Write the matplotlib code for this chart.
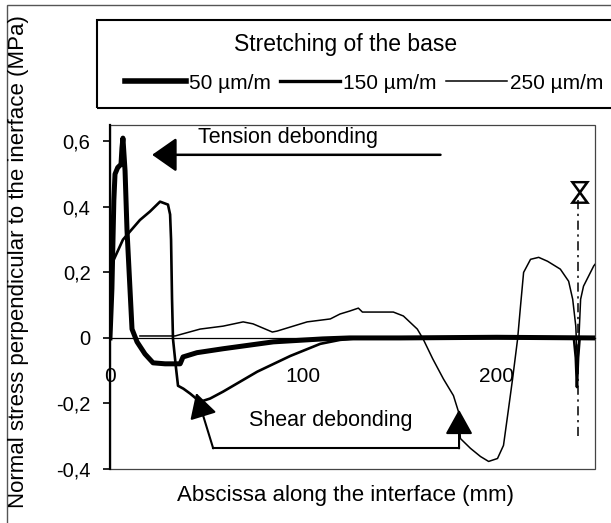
import numpy as np
import matplotlib
matplotlib.use('Agg')
import matplotlib.pyplot as plt
import matplotlib.ticker as mticker
from matplotlib.patches import Rectangle
from matplotlib.lines import Line2D

# ── Data ───────────────────────────────────────────────────────────────────
# abscissa along the interface (mm) / normal stress (MPa)
x_50 = [0, 1.0, 2.0, 2.6, 4.0, 5.7, 6.2, 6.7, 7.8, 8.8, 11.4, 14.0, 18.1, 22.3,
        28.5, 36.3, 37.8, 45, 58.5, 84.5, 110, 124, 150, 200, 251]
y_50 = [0, 0.15, 0.42, 0.50, 0.52, 0.53, 0.58, 0.61, 0.51, 0.33, 0.027, -0.012,
        -0.049, -0.076, -0.079, -0.079, -0.058, -0.045, -0.033, -0.012, -0.003,
        0, 0, 0.002, 0]

x_150 = [0, 1.6, 6.7, 15.5, 20.7, 25.9, 30.0, 31.1, 31.6, 32.1, 32.6, 34.2,
         35.2, 38.0, 41.5, 46.6, 51.8, 58.5, 76.2, 93.3, 108.8, 119, 130,
         200, 240, 241.0, 241.6, 242.2, 243, 251]
y_150 = [0.20, 0.234, 0.30, 0.36, 0.386, 0.416, 0.407, 0.377, 0.30, 0.12,
         -0.003, -0.094, -0.146, -0.155, -0.17, -0.195, -0.185, -0.164,
         -0.103, -0.055, -0.018, -0.006, 0, 0, 0, -0.06, -0.15, -0.06, 0, 0]

x_250 = [15.5, 33.7, 46.6, 58.5, 68.9, 74, 84, 86.5, 102, 114, 119, 124,
         128.5, 130.6, 133, 138, 146.6, 151.8, 159, 162, 167, 172.5, 177.7,
         180.3, 181.3, 186.5, 191.7, 195.9, 200.5, 203.6, 206, 208.3, 210.9,
         212.4, 214, 217.6, 221.8, 226.4, 233, 237.3, 239.4, 241, 242,
         242.6, 243.5, 245, 250.3, 251]
y_250 = [0.006, 0.006, 0.027, 0.036, 0.049, 0.043, 0.018, 0.021, 0.049,
         0.058, 0.073, 0.082, 0.091, 0.079, 0.079, 0.079, 0.079, 0.067, 0.027,
         -0.003, -0.064, -0.125, -0.176, -0.225, -0.307, -0.337, -0.362,
         -0.377, -0.368, -0.328, -0.225, -0.125, -0.003, 0.097, 0.20, 0.24,
         0.246, 0.234, 0.21, 0.173, 0.118, 0.036, -0.10, -0.003, 0.118, 0.158,
         0.22, 0.225]

series_labels = ['50 µm/m', '150 µm/m', '250 µm/m']

x_ticks = [0, 100, 200]
y_ticks = [-0.4, -0.2, 0, 0.2, 0.4, 0.6]

# annotation anchors (data units)
tension_text = (92, 0.611)
tension_from, tension_to = (171, 0.559), (21.8, 0.559)
shear_text = (114, -0.252)
shear_left_tip, shear_left_base = (44.6, -0.168), (53.4, -0.337)
shear_right_tip, shear_right_base = (180.6, -0.219), (180.6, -0.337)
cut_x, cut_top, cut_bottom, cut_mark_y = 242, 0.42, -0.30, 0.455

# ── Style ──────────────────────────────────────────────────────────────────
plt.rcParams.update({
    'font.family': ['Liberation Sans', 'DejaVu Sans'],
    'font.size': 14,
    'axes.unicode_minus': False,
})

fig = plt.figure(figsize=(6.11, 5.23), dpi=100)
ax = fig.add_axes([0.180, 0.1033, 0.794, 0.6577])

lw_thick, lw_med, lw_thin = 3.6, 1.9, 1.1
ax.plot(x_250, y_250, color='black', lw=lw_thin, zorder=3)
ax.plot(x_150, y_150, color='black', lw=lw_med, zorder=4)
ax.plot(x_50, y_50, color='black', lw=lw_thick, zorder=5, solid_joinstyle='round')

ax.set_xlim(0, 251)
ax.set_ylim(-0.4, 0.65)

# ── Axes / frame ───────────────────────────────────────────────────────────
for s in ['top', 'right']:
    ax.spines[s].set_visible(False)
ax.spines['left'].set_linewidth(1.6)
ax.spines['bottom'].set_position(('data', 0))
ax.spines['bottom'].set_linewidth(0.9)
ax.add_patch(Rectangle((0, 0), 1, 1, transform=ax.transAxes, fill=False,
                       ec='#444444', lw=0.9, zorder=1, clip_on=False))

ax.set_xticks(x_ticks)
ax.set_yticks(y_ticks)
ax.yaxis.set_major_formatter(mticker.FuncFormatter(
    lambda v, p: '0' if abs(v) < 1e-9 else f'{v:.1f}'.replace('.', ',')))
ax.tick_params(axis='y', direction='out', length=5, width=1.2, pad=9,
               labelsize=14.5)
ax.tick_params(axis='x', length=0, pad=21, labelsize=15)

# ── Annotations ────────────────────────────────────────────────────────────
ax.text(*tension_text, 'Tension debonding', ha='center', va='center',
        fontsize=15.5)
ax.annotate('', xy=tension_to, xytext=tension_from,
            arrowprops=dict(arrowstyle='-|>,head_length=0.4,head_width=0.28',
                            mutation_scale=38, lw=1.8, color='black',
                            shrinkA=0, shrinkB=0))

ax.text(*shear_text, 'Shear debonding', ha='center', va='center',
        fontsize=15.5)
ax.plot([shear_left_base[0], shear_right_base[0]],
        [shear_left_base[1], shear_right_base[1]], color='black', lw=1.5)
for tip, base in [(shear_left_tip, shear_left_base),
                  (shear_right_tip, shear_right_base)]:
    ax.annotate('', xy=tip, xytext=base,
                arrowprops=dict(arrowstyle='-|>,head_length=0.45,head_width=0.25',
                                mutation_scale=34, lw=1.5, color='black',
                                shrinkA=0, shrinkB=0))

ax.plot([cut_x, cut_x], [cut_top, cut_bottom], color='black', lw=1.1,
        ls=(0, (6, 3, 1.5, 3)), zorder=6)
ax.text(cut_x, cut_mark_y, '\u22c8', rotation=90, ha='center', va='center',
        fontsize=21, family='DejaVu Sans')

# ── Legend (box runs off the right edge, as in the scan) ───────────────────
fig.patches.append(Rectangle((0.159, 0.7935), 0.9, 0.168,
                             transform=fig.transFigure, fill=False,
                             ec='black', lw=1.5))
fig.text(0.565, 0.914, 'Stretching of the base', ha='center', va='center',
         fontsize=16.5)
handles = [Line2D([], [], color='black', lw=w) for w in (4.0, 2.4, 1.1)]
fig.legend(handles, series_labels, loc='center', bbox_to_anchor=(0.596, 0.841),
           ncol=3, frameon=False, handlelength=2.9, handletextpad=0.15,
           columnspacing=0.45, fontsize=15)

# outer frame of the scanned figure
fig.patches.append(Rectangle((7 / 611, -0.1), 1.1, 1.1 - 5 / 523,
                             transform=fig.transFigure, fill=False,
                             ec='#555555', lw=1.0))

# ── Axis labels ────────────────────────────────────────────────────────────
fig.text(0.565, 0.052, 'Abscissa along the interface (mm)', ha='center',
         va='center', fontsize=16)
fig.text(0.031, 0.50, 'Normal stress perpendicular to the inerface (MPa)',
         rotation=90, ha='center', va='center', fontsize=16)

fig.savefig('out.png', dpi=100, facecolor='white')
